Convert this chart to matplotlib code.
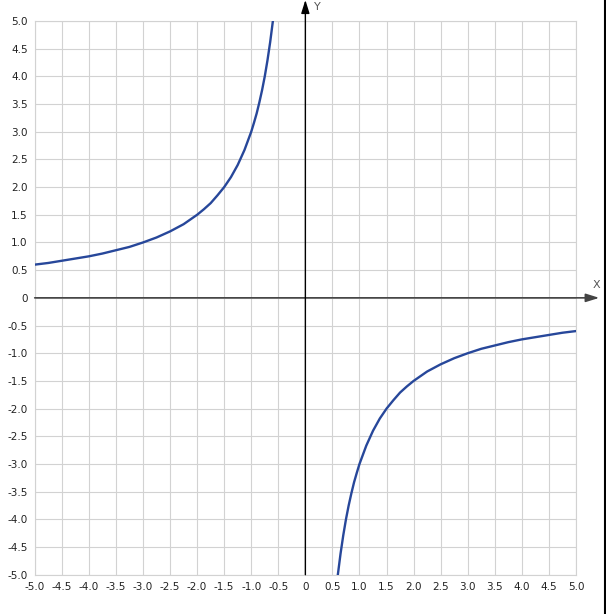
import matplotlib
matplotlib.use("Agg")
import matplotlib.pyplot as plt
import numpy as np
from matplotlib.lines import Line2D

# values (left branch, then the mirrored right branch)
x_left = [-5.0, -4.75, -4.5, -4.25, -4.0, -3.75, -3.5, -3.25, -3.0, -2.75, -2.5,
          -2.25, -2.0, -1.875, -1.75, -1.625, -1.5, -1.375, -1.25, -1.125, -1.0,
          -0.95, -0.9, -0.85, -0.8, -0.75, -0.7, -0.65, -0.6]
y_left = [0.60, 0.63, 0.67, 0.71, 0.75, 0.80, 0.86, 0.92, 1.00, 1.09, 1.20,
          1.33, 1.50, 1.60, 1.71, 1.85, 2.00, 2.18, 2.40, 2.67, 3.00,
          3.16, 3.33, 3.53, 3.75, 4.00, 4.29, 4.62, 5.00]
x_right = [0.6, 0.65, 0.7, 0.75, 0.8, 0.85, 0.9, 0.95, 1.0, 1.125, 1.25, 1.375,
           1.5, 1.625, 1.75, 1.875, 2.0, 2.25, 2.5, 2.75, 3.0, 3.25, 3.5, 3.75,
           4.0, 4.25, 4.5, 4.75, 5.0]
y_right = [-5.00, -4.62, -4.29, -4.00, -3.75, -3.53, -3.33, -3.16, -3.00, -2.67,
           -2.40, -2.18, -2.00, -1.85, -1.71, -1.60, -1.50, -1.33, -1.20, -1.09,
           -1.00, -0.92, -0.86, -0.80, -0.75, -0.71, -0.67, -0.63, -0.60]

ticks = [-5.0, -4.5, -4.0, -3.5, -3.0, -2.5, -2.0, -1.5, -1.0, -0.5, 0.0,
         0.5, 1.0, 1.5, 2.0, 2.5, 3.0, 3.5, 4.0, 4.5, 5.0]
tick_labels = ["0" if t == 0 else f"{t:.1f}" for t in ticks]

fig = plt.figure(figsize=(6.06, 6.14), dpi=100)
ax = fig.add_axes([0.0573, 0.064, 0.8932, 0.9018])

ax.set_xlim(-5, 5)
ax.set_ylim(-5, 5)
ax.set_xticks(ticks)
ax.set_yticks(ticks)
ax.set_xticklabels(tick_labels)
ax.set_yticklabels(tick_labels)
ax.tick_params(length=0, labelsize=7.5, colors="#222222", pad=5)
ax.grid(True, color="#d2d2d2", lw=0.8)
for s in ax.spines.values():
    s.set_color("#d2d2d2")
    s.set_linewidth(0.8)

curve_color = "#27479a"
ax.plot(x_left, y_left, color=curve_color, lw=1.7, zorder=3)
ax.plot(x_right, y_right, color=curve_color, lw=1.7, zorder=3)

# coordinate axes with arrows
ax.annotate("", xy=(5.43, 0), xytext=(-5, 0), annotation_clip=False,
            arrowprops=dict(arrowstyle="-|>,head_length=0.8,head_width=0.25",
                            color="#444444", lw=1.2, shrinkA=0, shrinkB=0))
ax.annotate("", xy=(0, 5.38), xytext=(0, -5), annotation_clip=False,
            arrowprops=dict(arrowstyle="-|>,head_length=0.8,head_width=0.25",
                            color="black", lw=1.0, shrinkA=0, shrinkB=0))
ax.text(5.37, 0.15, "X", fontsize=8, color="#555555", ha="center", va="bottom",
        clip_on=False)
ax.text(0.22, 5.25, "Y", fontsize=8, color="#555555", ha="center", va="center",
        clip_on=False)

# dark border at the right edge of the image
fig.add_artist(Line2D([0.9985, 0.9985], [0, 1], color="black", lw=1.5,
                      transform=fig.transFigure))

fig.savefig("out.png", dpi=100)
